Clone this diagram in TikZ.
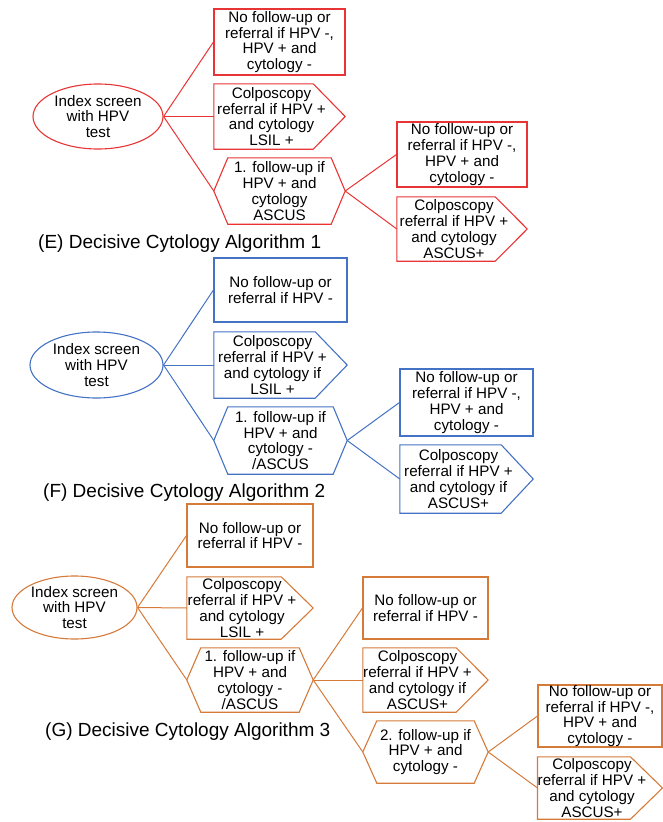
\documentclass[tikz,border=0pt]{standalone}
\usepackage{fontspec}
\setmainfont{Liberation Sans}
\usetikzlibrary{shapes.geometric}
\definecolor{algred}{RGB}{232,52,52}
\definecolor{algblue}{RGB}{68,114,196}
\definecolor{algorange}{RGB}{214,122,58}

\begin{document}
\begin{tikzpicture}[x=1pt,y=-1pt,
  every node/.style={font=\fontsize{15.2}{15.8}\selectfont,align=center,inner sep=0pt},
  oval/.style={ellipse,draw=#1,line width=1.1pt},
  rbox/.style={rectangle,draw=#1,line width=1.1pt},
  pent/.style={rectangle,append after command={\pgfextra{\draw[#1,line width=1.1pt]
    (\tikzlastnode.north west) -- ([xshift=-16pt]\tikzlastnode.north east)
    -- ([xshift=16pt]\tikzlastnode.east) -- ([xshift=-16pt]\tikzlastnode.south east)
    -- (\tikzlastnode.south west) -- cycle;}}},
  hexa/.style={rectangle,append after command={\pgfextra{\draw[#1,line width=1.1pt]
    ([xshift=14pt]\tikzlastnode.north west) -- ([xshift=-14pt]\tikzlastnode.north east)
    -- (\tikzlastnode.east) -- ([xshift=-14pt]\tikzlastnode.south east)
    -- ([xshift=14pt]\tikzlastnode.south west) -- (\tikzlastnode.west) -- cycle;}}},
  link/.style={draw=#1,line width=1pt},
  ttl/.style={anchor=base west,font=\fontsize{19}{22}\selectfont}
]
\useasboundingbox (0,0) rectangle (662,822);

% (E)
\node[oval=algred,minimum width=130pt,minimum height=65pt] (e0) at (98,116.5) {Index screen\\with HPV\\test};
\node[rbox=algred,minimum width=131pt,minimum height=66pt] (e1) at (279.5,42) {No follow-up or\\referral if HPV -,\\HPV + and\\cytology -};
\node[pent=algred,minimum width=115pt,minimum height=65pt] (e2) at (271.5,116.5) {Colposcopy\\referral if HPV +\\and cytology\\LSIL +};
\node[hexa=algred,minimum width=131pt,minimum height=66pt] (e3) at (279.5,191) {1. follow-up if\\HPV + and\\cytology\\ASCUS};
\node[rbox=algred,minimum width=130pt,minimum height=65pt] (e4) at (462,154.5) {No follow-up or\\referral if HPV -,\\HPV + and\\cytology -};
\node[pent=algred,minimum width=114pt,minimum height=64pt] (e5) at (454,229) {Colposcopy\\referral if HPV +\\and cytology\\ASCUS+};
\node[ttl] (et) at (38,248) {(E) Decisive Cytology Algorithm 1};
\draw[link=algred] (e0.east) -- (e1.west);
\draw[link=algred] (e0.east) -- (e2.west);
\draw[link=algred] (e0.east) -- (e3.west);
\draw[link=algred] (e3.east) -- (e4.west);
\draw[link=algred] (e3.east) -- (e5.west);

% (F)
\node[oval=algblue,minimum width=133pt,minimum height=66pt] (f0) at (96.5,365) {Index screen\\with HPV\\test};
\node[rbox=algblue,minimum width=133pt,minimum height=64pt] (f1) at (280.5,290) {No follow-up or\\referral if HPV -};
\node[pent=algblue,minimum width=117pt,minimum height=66pt] (f2) at (272.5,365) {Colposcopy\\referral if HPV +\\and cytology if\\LSIL +};
\node[hexa=algblue,minimum width=133pt,minimum height=67pt] (f3) at (280.5,440.5) {1. follow-up if\\HPV + and\\cytology -\\/ASCUS};
\node[rbox=algblue,minimum width=133pt,minimum height=67pt] (f4) at (466.5,402.5) {No follow-up or\\referral if HPV -,\\HPV + and\\cytology -};
\node[pent=algblue,minimum width=117pt,minimum height=68pt] (f5) at (458.5,479) {Colposcopy\\referral if HPV +\\and cytology if\\ASCUS+};
\node[ttl] (ft) at (43,497) {(F) Decisive Cytology Algorithm 2};
\draw[link=algblue] (f0.east) -- (f1.west);
\draw[link=algblue] (f0.east) -- (f2.west);
\draw[link=algblue] (f0.east) -- (f3.west);
\draw[link=algblue] (f3.east) -- (f4.west);
\draw[link=algblue] (f3.east) -- (f5.west);

% (G)
\node[oval=algorange,minimum width=125pt,minimum height=63pt] (g0) at (74.5,607.5) {Index screen\\with HPV\\test};
\node[rbox=algorange,minimum width=126pt,minimum height=63pt] (g1) at (250,535.5) {No follow-up or\\referral if HPV -};
\node[pent=algorange,minimum width=110pt,minimum height=62pt] (g2) at (242,608) {Colposcopy\\referral if HPV +\\and cytology\\LSIL +};
\node[hexa=algorange,minimum width=126pt,minimum height=64pt] (g3) at (250,680) {1. follow-up if\\HPV + and\\cytology -\\/ASCUS};
\node[rbox=algorange,minimum width=125pt,minimum height=62pt] (g4) at (425.5,608) {No follow-up or\\referral if HPV -};
\node[pent=algorange,minimum width=109pt,minimum height=64pt] (g5) at (417.5,680) {Colposcopy\\referral if HPV +\\and cytology if\\ASCUS+};
\node[hexa=algorange,minimum width=125pt,minimum height=62pt] (g6) at (425.5,752) {2. follow-up if\\HPV + and\\cytology -};
\node[rbox=algorange,minimum width=124pt,minimum height=62pt] (g7) at (600,716) {No follow-up or\\referral if HPV -,\\HPV + and\\cytology -};
\node[pent=algorange,minimum width=108pt,minimum height=62pt] (g8) at (592,788) {Colposcopy\\referral if HPV +\\and cytology\\ASCUS+};
\node[ttl] (gt) at (45,736) {(G) Decisive Cytology Algorithm 3};
\draw[link=algorange] (g0.east) -- (g1.west);
\draw[link=algorange] (g0.east) -- (g2.west);
\draw[link=algorange] (g0.east) -- (g3.west);
\draw[link=algorange] (g3.east) -- (g4.west);
\draw[link=algorange] (g3.east) -- (g5.west);
\draw[link=algorange] (g3.east) -- (g6.west);
\draw[link=algorange] (g6.east) -- (g7.west);
\draw[link=algorange] (g6.east) -- (g8.west);
\end{tikzpicture}
\end{document}
